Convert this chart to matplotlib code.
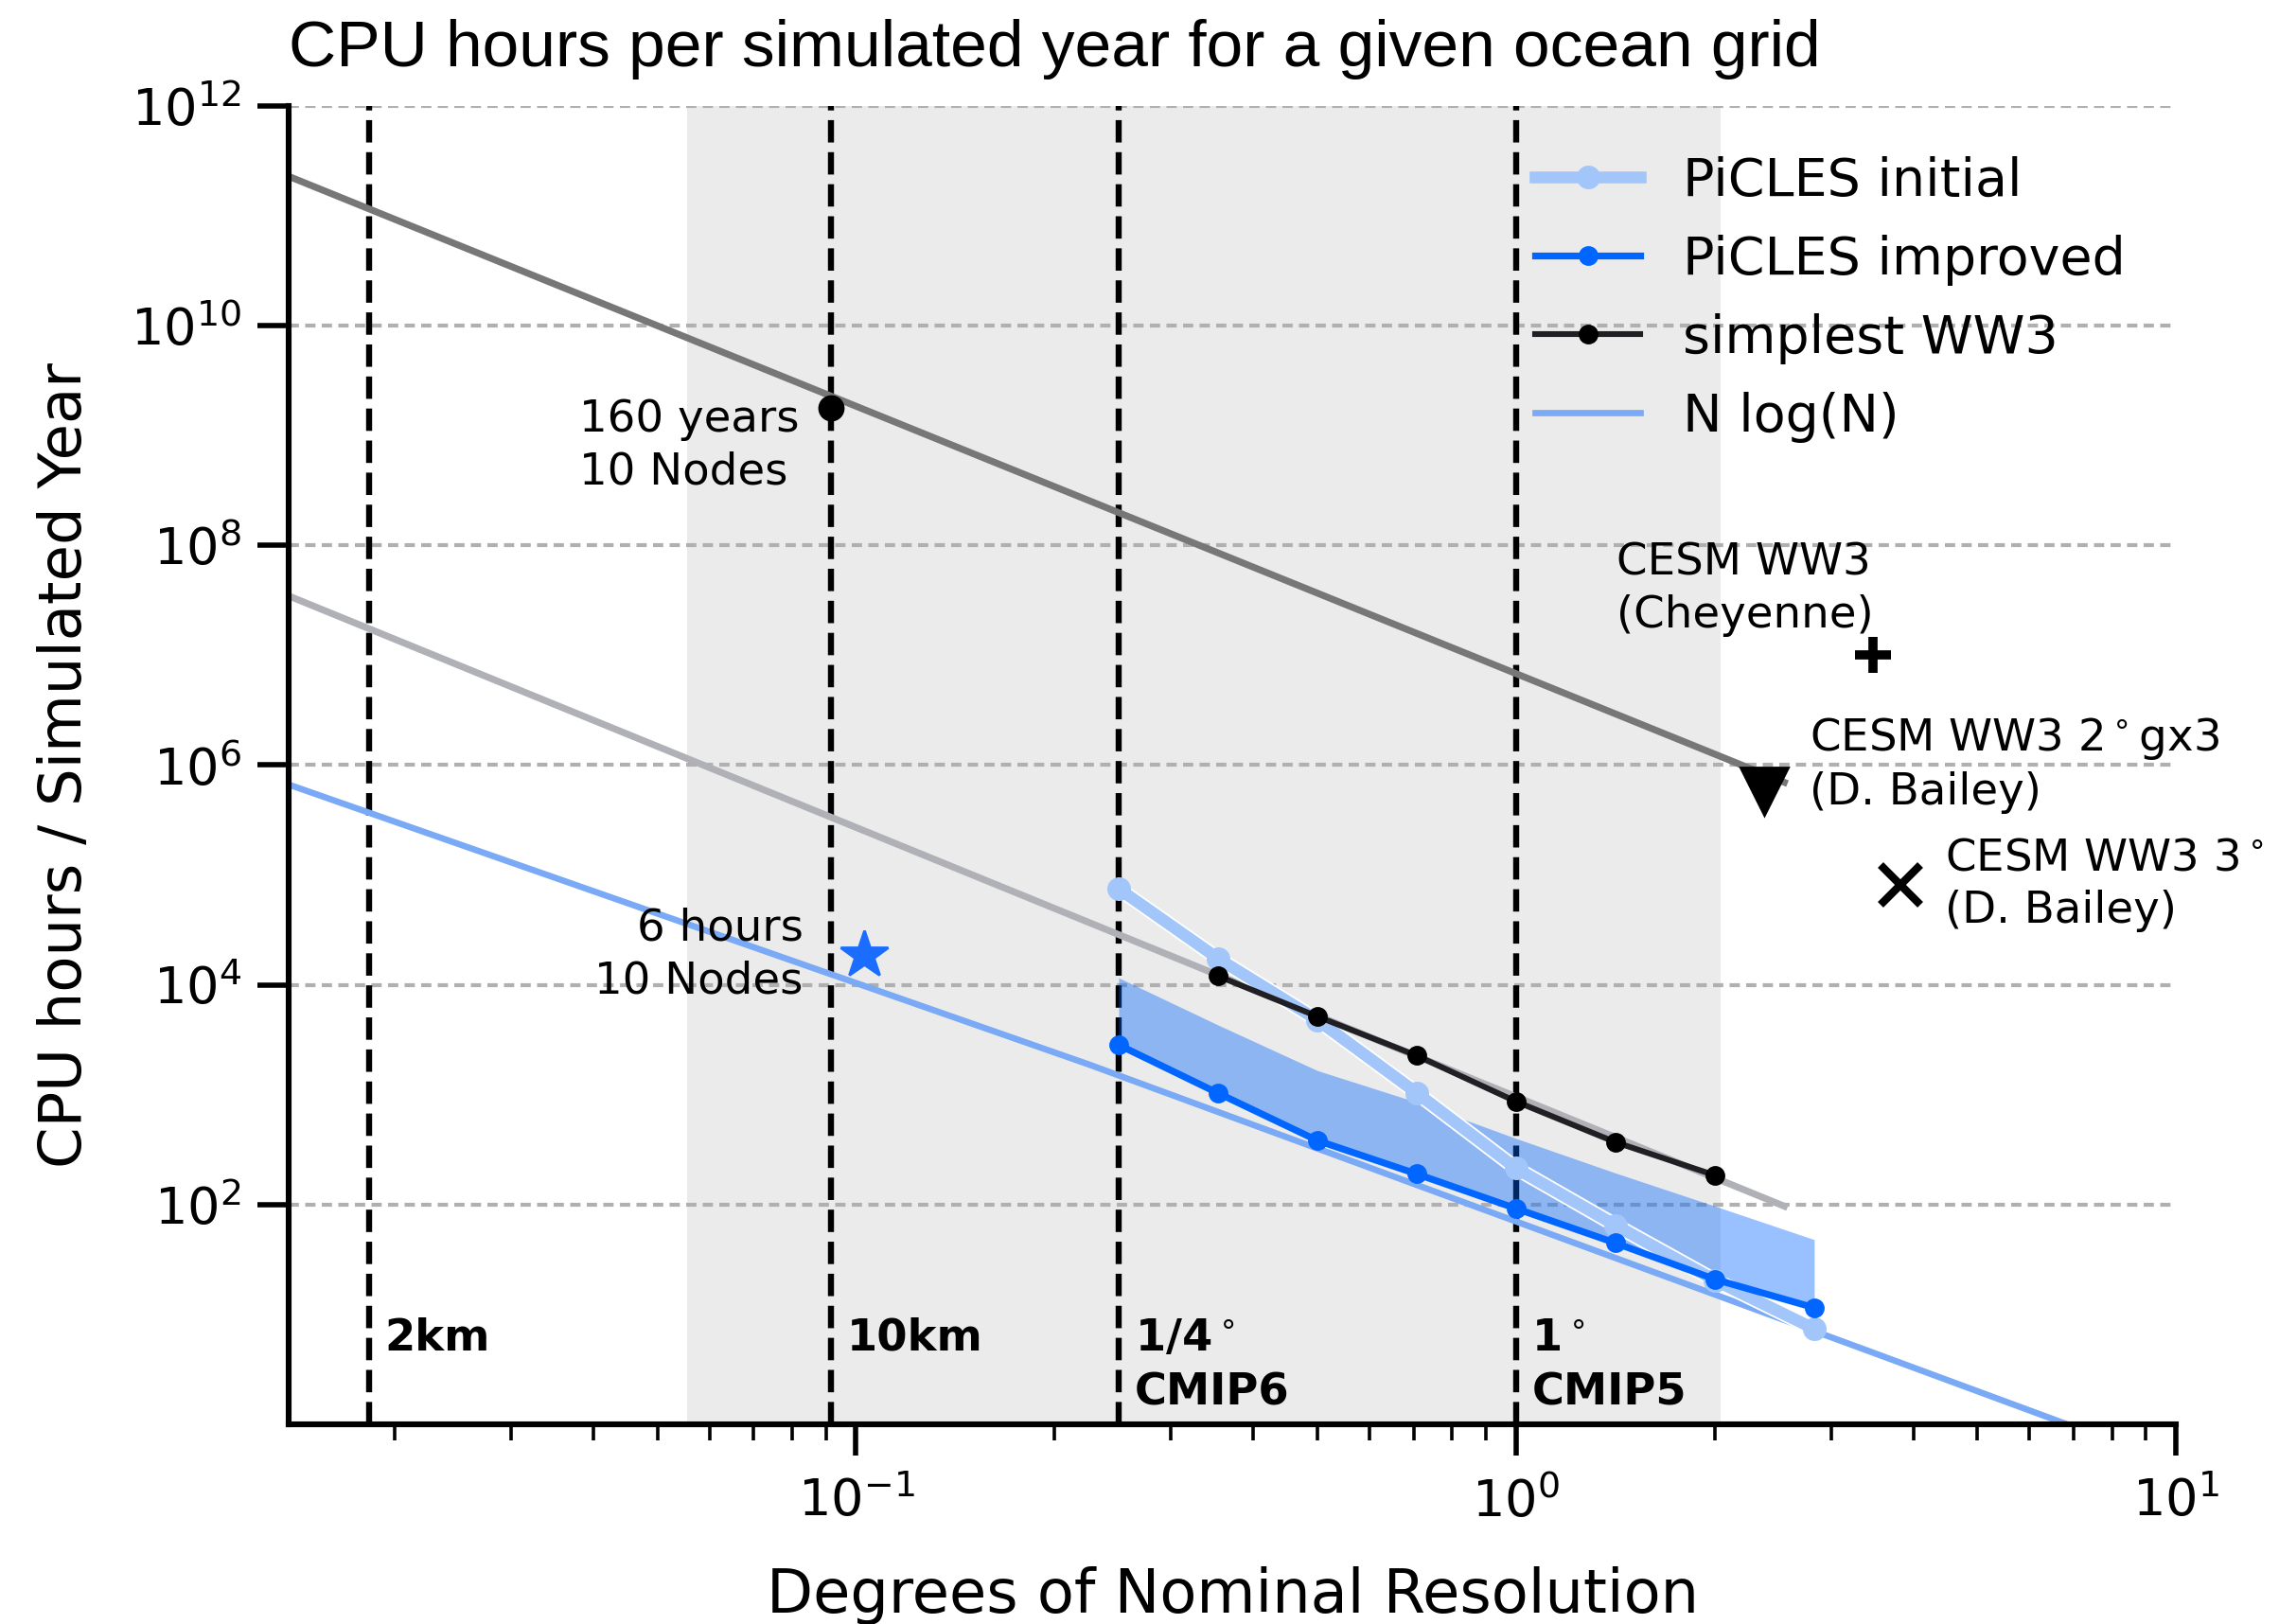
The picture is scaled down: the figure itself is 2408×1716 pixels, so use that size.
import numpy as np
import matplotlib.pyplot as plt
from matplotlib.ticker import NullLocator

# grid resolutions in degrees and CPU hours per simulated year
res = [0.25, 0.354, 0.5, 0.707, 1.0, 1.414, 2.0, 2.83]
picles_initial = [7.5e4, 1.73e4, 4.8e3, 1.04e3, 214, 65, 20.5, 7.4]
picles_improved = [2.84e3, 1.03e3, 383, 190, 92, 44.7, 20.9, 11.5]
picles_upper = [1.16e4, 4.3e3, 1.66e3, 855, 400, 194, 97, 48]

ww3_res = [0.354, 0.5, 0.707, 1.0, 1.414, 2.0]
ww3_cost = [1.2e4, 5.16e3, 2.27e3, 867, 370, 185]

# scaling lines
scale_x = [0.01382, 2.55]
ww3_scale_hi = [2.29e11, 6.98e5]
ww3_scale_lo = [3.47e7, 96.6]
nlogn_x = [0.01382, 0.225, 3.37, 10.0]
nlogn_y = [6.65e5, 1.89e3, 4.8, 0.43]

# single measurements
ww3_10km = (0.0916, 1.78e9)
picles_10km = (0.1027, 1.88e4)
cesm_cheyenne = (3.48, 1.0e7)
cesm_2deg = (2.38, 5.8e5)
cesm_3deg = (3.82, 8.15e4)

ref_res = [0.0183, 0.0917, 0.25, 1.0]
ref_labels = ["2km", "10km", "1/4$^\\circ$\nCMIP6", "1$^\\circ$\nCMIP5"]
shade = (0.0554, 2.04)

fig, ax = plt.subplots(figsize=(12.04, 8.58), dpi=200)
fig.subplots_adjust(left=0.1267, right=0.9548, top=0.9347, bottom=0.123)

ax.set_xscale("log")
ax.set_yscale("log")
ax.set_xlim(0.01382, 10)
ax.set_ylim(1, 1e12)

ax.axvspan(*shade, color="#ebebeb", lw=0, zorder=0)
for yy in [1e2, 1e4, 1e6, 1e8, 1e10, 1e12]:
    ax.axhline(yy, color="#b0b0b0", lw=1.5, ls=(0, (2.6, 1.6)), zorder=0.5)
for xx in ref_res:
    ax.axvline(xx, color="k", lw=2.3, ls="--", zorder=1)
for xx, lab in zip(ref_res, ref_labels):
    ax.annotate(lab, (xx, 9.4), xytext=(6, 0), textcoords="offset points",
                ha="left", va="top", fontsize=16.7, fontweight="bold", linespacing=1.35)

ax.plot(scale_x, ww3_scale_hi, color="#777777", lw=2.6, zorder=2)
ax.plot(scale_x, ww3_scale_lo, color="#b0b0b7", lw=2.6, zorder=2)

ax.fill_between(res, picles_improved, picles_upper, color="#0066ff", alpha=0.4, lw=0, zorder=2)

# white casing under the initial PiCLES curve
ax.plot(res, picles_initial, color="w", lw=5.8, zorder=2.9)
ax.plot(res, picles_initial, color="#a3c6fa", lw=4.5, marker="o", ms=8,
        label="PiCLES initial", zorder=3)
ax.plot(res, picles_improved, color="#0066ff", lw=2.6, marker="o", ms=6.5,
        label="PiCLES improved", zorder=4)
ax.plot(ww3_res, ww3_cost, color="#1f1f24", lw=2.2, marker="o", ms=6.5, mfc="k", mec="k",
        label="simplest WW3", zorder=4)
ax.plot(nlogn_x, nlogn_y, color="#7aa9f5", lw=2.4, label="N log(N)", zorder=2.5)

ax.plot(*ww3_10km, "o", color="k", ms=9, zorder=5)
ax.annotate("160 years\n10 Nodes", ww3_10km, xytext=(-12, 3.5), textcoords="offset points",
            ha="right", va="top", multialignment="left", fontsize=16.8, linespacing=1.3)
ax.plot(*picles_10km, "*", color="#1a6dff", ms=19, zorder=5)
ax.annotate("6 hours\n10 Nodes", picles_10km, xytext=(-23, 0), textcoords="offset points",
            ha="right", va="center", fontsize=16.8, linespacing=1.3)

ax.plot(*cesm_cheyenne, "+", color="k", ms=14, mew=3.5, zorder=5)
ax.annotate("CESM WW3\n(Cheyenne)", cesm_cheyenne, xytext=(0, 7), textcoords="offset points",
            ha="right", va="bottom", multialignment="left", fontsize=16.8, linespacing=1.3)
ax.plot(*cesm_2deg, "v", color="k", ms=18, zorder=5)
ax.annotate("CESM WW3 2$^\\circ$gx3\n(D. Bailey)", cesm_2deg, xytext=(17, 10),
            textcoords="offset points", ha="left", va="center", fontsize=16.8, linespacing=1.3)
ax.plot(*cesm_3deg, "x", color="k", ms=15, mew=3, zorder=5)
ax.annotate("CESM WW3 3$^\\circ$\n(D. Bailey)", cesm_3deg, xytext=(17, 0),
            textcoords="offset points", ha="left", va="center", fontsize=16.8,
            linespacing=1.3, annotation_clip=False)

ax.set_yticks([1e2, 1e4, 1e6, 1e8, 1e10, 1e12])
ax.yaxis.set_minor_locator(NullLocator())
ax.tick_params(which="major", length=12, width=2, labelsize=19.5, pad=6)
ax.tick_params(axis="x", which="major", pad=8)
ax.tick_params(which="minor", length=6, width=1.3)
for s in ["top", "right"]:
    ax.spines[s].set_visible(False)
for s in ["left", "bottom"]:
    ax.spines[s].set_linewidth(2.2)

ax.set_xlabel("Degrees of Nominal Resolution", fontsize=23, labelpad=15)
ax.set_ylabel("CPU hours / Simulated Year", fontsize=22.5, labelpad=14)
ax.set_title("CPU hours per simulated year for a given ocean grid", loc="left",
             fontsize=25, fontfamily="Liberation Sans", pad=15.3)

ax.legend(loc="upper left", bbox_to_anchor=(0.6355, 0.998), frameon=False, fontsize=20,
          labelspacing=0.52, handlelength=2.0)

fig.savefig("out.png", dpi=200)
